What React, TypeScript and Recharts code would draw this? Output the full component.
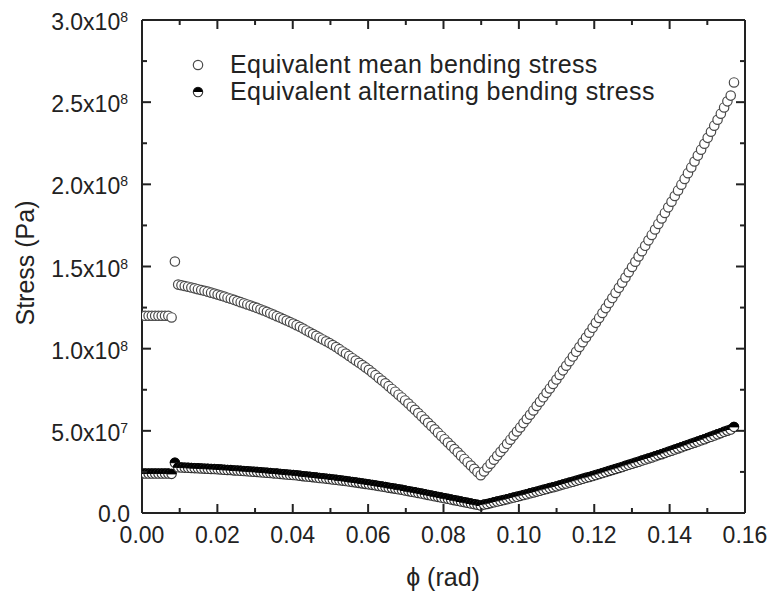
import React from "react";
import { ScatterChart, Scatter, XAxis, YAxis, Label } from "recharts";

// phi (rad), sampled every 0.05 deg
const phi = [
  0, 0.00087, 0.00175, 0.00262, 0.00349, 0.00436, 0.00524, 0.00611, 0.00698, 0.00785,
  0.00873, 0.0096, 0.01047, 0.01134, 0.01222, 0.01309, 0.01396, 0.01484, 0.01571, 0.01658,
  0.01745, 0.01833, 0.0192, 0.02007, 0.02094, 0.02182, 0.02269, 0.02356, 0.02443, 0.02531,
  0.02618, 0.02705, 0.02793, 0.0288, 0.02967, 0.03054, 0.03142, 0.03229, 0.03316, 0.03403,
  0.03491, 0.03578, 0.03665, 0.03752, 0.0384, 0.03927, 0.04014, 0.04102, 0.04189, 0.04276,
  0.04363, 0.04451, 0.04538, 0.04625, 0.04712, 0.048, 0.04887, 0.04974, 0.05061, 0.05149,
  0.05236, 0.05323, 0.05411, 0.05498, 0.05585, 0.05672, 0.0576, 0.05847, 0.05934, 0.06021,
  0.06109, 0.06196, 0.06283, 0.0637, 0.06458, 0.06545, 0.06632, 0.0672, 0.06807, 0.06894,
  0.06981, 0.07069, 0.07156, 0.07243, 0.0733, 0.07418, 0.07505, 0.07592, 0.07679, 0.07767,
  0.07854, 0.07941, 0.08029, 0.08116, 0.08203, 0.0829, 0.08378, 0.08465, 0.08552, 0.08639,
  0.08727, 0.08814, 0.08901, 0.08988, 0.09076, 0.09163, 0.0925, 0.09338, 0.09425, 0.09512,
  0.09599, 0.09687, 0.09774, 0.09861, 0.09948, 0.10036, 0.10123, 0.1021, 0.10297, 0.10385,
  0.10472, 0.10559, 0.10647, 0.10734, 0.10821, 0.10908, 0.10996, 0.11083, 0.1117, 0.11257,
  0.11345, 0.11432, 0.11519, 0.11606, 0.11694, 0.11781, 0.11868, 0.11956, 0.12043, 0.1213,
  0.12217, 0.12305, 0.12392, 0.12479, 0.12566, 0.12654, 0.12741, 0.12828, 0.12915, 0.13003,
  0.1309, 0.13177, 0.13265, 0.13352, 0.13439, 0.13526, 0.13614, 0.13701, 0.13788, 0.13875,
  0.13963, 0.1405, 0.14137, 0.14224, 0.14312, 0.14399, 0.14486, 0.14574, 0.14661, 0.14748,
  0.14835, 0.14923, 0.1501, 0.15097, 0.15184, 0.15272, 0.15359, 0.15446, 0.15533, 0.15621,
  0.15708,
];

// equivalent mean bending stress (MPa)
const meanStress = [
  120, 120, 120, 120, 120, 120, 120, 120, 120, 119,
  153, 139.0, 138.6, 138.1, 137.7, 137.2, 136.7, 136.2, 135.7, 135.2,
  134.7, 134.1, 133.5, 132.9, 132.3, 131.7, 131.0, 130.4, 129.7, 129.0,
  128.3, 127.6, 126.9, 126.2, 125.5, 124.8, 124.0, 123.2, 122.4, 121.5,
  120.7, 119.8, 118.9, 118.0, 117.1, 116.2, 115.3, 114.3, 113.3, 112.2,
  111.1, 110.0, 108.9, 107.8, 106.7, 105.6, 104.5, 103.4, 102.2, 101.0,
  99.7, 98.3, 97.0, 95.6, 94.2, 92.8, 91.4, 90.0, 88.6, 87.1,
  85.5, 83.9, 82.2, 80.6, 78.9, 77.2, 75.5, 73.8, 72.0, 70.3,
  68.5, 66.6, 64.7, 62.8, 60.8, 58.9, 56.9, 54.9, 52.9, 50.9,
  48.9, 46.9, 44.9, 42.9, 40.9, 38.9, 36.9, 34.9, 32.9, 30.9,
  28.9, 26.9, 24.9, 23.0, 25.3, 27.7, 30.0, 32.4, 34.8, 37.2,
  39.6, 42.1, 44.6, 47.1, 49.6, 52.1, 54.7, 57.2, 59.8, 62.4,
  65.1, 67.7, 70.4, 73.1, 75.8, 78.5, 81.2, 84.0, 86.8, 89.6,
  92.4, 95.2, 98.1, 101.0, 103.9, 106.8, 109.7, 112.7, 115.7, 118.7,
  121.7, 124.7, 127.8, 130.8, 133.9, 137.0, 140.1, 143.3, 146.5, 149.7,
  152.9, 156.1, 159.3, 162.6, 165.9, 169.2, 172.5, 175.9, 179.2, 182.6,
  186.0, 189.4, 192.9, 196.3, 199.8, 203.3, 206.8, 210.3, 213.9, 217.5,
  221.1, 224.7, 228.3, 232.0, 235.7, 239.3, 243.0, 246.8, 250.5, 254.0,
  262,
];

// equivalent alternating bending stress (MPa)
const altStress = [
  24.0, 24.0, 24.0, 24.0, 24.0, 24.0, 24.0, 24.0, 24.0, 23.8,
  30.6, 27.8, 27.7, 27.6, 27.5, 27.4, 27.3, 27.2, 27.1, 27.0,
  26.9, 26.8, 26.7, 26.6, 26.5, 26.3, 26.2, 26.1, 25.9, 25.8,
  25.7, 25.5, 25.4, 25.2, 25.1, 25.0, 24.8, 24.6, 24.5, 24.3,
  24.1, 24.0, 23.8, 23.6, 23.4, 23.2, 23.1, 22.9, 22.7, 22.4,
  22.2, 22.0, 21.8, 21.6, 21.3, 21.1, 20.9, 20.7, 20.4, 20.2,
  19.9, 19.7, 19.4, 19.1, 18.8, 18.6, 18.3, 18.0, 17.7, 17.4,
  17.1, 16.8, 16.4, 16.1, 15.8, 15.4, 15.1, 14.8, 14.4, 14.1,
  13.7, 13.3, 12.9, 12.6, 12.2, 11.8, 11.4, 11.0, 10.6, 10.2,
  9.8, 9.4, 9.0, 8.6, 8.2, 7.8, 7.4, 7.0, 6.6, 6.2,
  5.8, 5.4, 5.0, 4.6, 5.1, 5.5, 6.0, 6.5, 7.0, 7.4,
  7.9, 8.4, 8.9, 9.4, 9.9, 10.4, 10.9, 11.4, 12.0, 12.5,
  13.0, 13.5, 14.1, 14.6, 15.2, 15.7, 16.2, 16.8, 17.4, 17.9,
  18.5, 19.0, 19.6, 20.2, 20.8, 21.4, 21.9, 22.5, 23.1, 23.7,
  24.3, 24.9, 25.6, 26.2, 26.8, 27.4, 28.0, 28.7, 29.3, 29.9,
  30.6, 31.2, 31.9, 32.5, 33.2, 33.8, 34.5, 35.2, 35.8, 36.5,
  37.2, 37.9, 38.6, 39.3, 40.0, 40.7, 41.4, 42.1, 42.8, 43.5,
  44.2, 44.9, 45.7, 46.4, 47.1, 47.9, 48.6, 49.4, 50.1, 50.8,
  52.4,
];

const xTicks = [0, 0.01, 0.02, 0.03, 0.04, 0.05, 0.06, 0.07, 0.08, 0.09, 0.1, 0.11, 0.12, 0.13, 0.14, 0.15, 0.16];
const yTicks = [0, 25e6, 50e6, 75e6, 100e6, 125e6, 150e6, 175e6, 200e6, 225e6, 250e6, 275e6, 300e6];

const meanData = phi.map((x, i) => ({ x, y: meanStress[i] * 1e6 }));
const altData = phi.map((x, i) => ({ x, y: altStress[i] * 1e6 }));

const FONT = "'Liberation Sans', Arial, sans-serif";
const INK = "#222";
const R = 4.7;

// plot box (set by margins + axis sizes below)
const W = 770, H = 592;
const PL = 142, PR = 745, PT = 20, PB = 513;
const X_MAX = 0.16, Y_MAX = 300e6;

const isMajorX = (v: number) => Math.round(v * 100) % 2 === 0;
const isMajorY = (v: number) => Math.round(v / 25e6) % 2 === 0;

function OpenCircle(props: any) {
  const { cx, cy } = props;
  return <circle cx={cx} cy={cy} r={R} fill="#fff" stroke="#4a4a4a" strokeWidth={1.2} />;
}

function HalfCircle(props: any) {
  const { cx, cy } = props;
  return (
    <g>
      <circle cx={cx} cy={cy} r={R} fill="#fff" stroke="#333" strokeWidth={1.1} />
      <path d={`M${cx - R},${cy} A${R},${R} 0 0 1 ${cx + R},${cy} Z`} fill="#000" stroke="#000" strokeWidth={1} />
    </g>
  );
}

function BottomTick(props: any) {
  const { x, y, payload } = props;
  if (!isMajorX(payload.value)) return <g />;
  return (
    <text x={x} y={y + 30} textAnchor="middle" fontSize={23} fontFamily={FONT} fill={INK}>
      {payload.value.toFixed(2)}
    </text>
  );
}

function LeftTick(props: any) {
  const { x, y, payload } = props;
  const v = payload.value;
  if (!isMajorY(v)) return <g />;
  if (v === 0) {
    return <text x={x - 12} y={y + 9} textAnchor="end" fontSize={23} fontFamily={FONT} fill={INK}>0.0</text>;
  }
  const e = Math.floor(Math.log10(v));
  const m = (v / Math.pow(10, e)).toFixed(1);
  return (
    <text x={x - 14} y={y + 10} textAnchor="end" fontSize={23} fontFamily={FONT} fill={INK}>
      {m}x10
      <tspan dy={-8} fontSize={14}>{e}</tspan>
    </text>
  );
}

// inward tick marks on all four sides of the frame
function FrameTicks() {
  const marks: React.ReactNode[] = [];
  xTicks.slice(1, -1).forEach((v) => {
    const px = PL + (v / X_MAX) * (PR - PL);
    const len = isMajorX(v) ? 9 : 5;
    marks.push(<line key={`xb${v}`} x1={px} x2={px} y1={PB} y2={PB - len} />);
    marks.push(<line key={`xt${v}`} x1={px} x2={px} y1={PT} y2={PT + len} />);
  });
  yTicks.slice(1, -1).forEach((v) => {
    const py = PB - (v / Y_MAX) * (PB - PT);
    const len = isMajorY(v) ? 9 : 5;
    marks.push(<line key={`yl${v}`} x1={PL} x2={PL + len} y1={py} y2={py} />);
    marks.push(<line key={`yr${v}`} x1={PR} x2={PR - len} y1={py} y2={py} />);
  });
  return (
    <svg width={W} height={H} style={{ position: "absolute", left: 0, top: 0, pointerEvents: "none" }}>
      <g stroke={INK} strokeWidth={2}>{marks}</g>
    </svg>
  );
}

const axisLine = { stroke: INK, strokeWidth: 2 };

export default function App() {
  return (
    <div style={{ position: "absolute", left: 0, top: 0, width: W, height: H, overflow: "hidden", fontFamily: FONT }}>
      <ScatterChart width={W} height={H} margin={{ top: PT - 1, right: W - PR - 1, bottom: 0, left: 0 }}>
        <XAxis
          xAxisId="b" type="number" dataKey="x" domain={[0, X_MAX]} ticks={xTicks}
          height={H - PB} tickSize={0} tickMargin={0} tickLine={false} axisLine={axisLine}
          tick={BottomTick} interval={0} allowDataOverflow
        >
          <Label
            content={() => (
              <text x={443} y={586} textAnchor="middle" fontSize={25} fontFamily={FONT} fill={INK}>ϕ (rad)</text>
            )}
          />
        </XAxis>
        <XAxis
          xAxisId="t" orientation="top" type="number" domain={[0, X_MAX]} ticks={xTicks}
          height={1} tickLine={false} tick={false} axisLine={axisLine} allowDataOverflow
        />
        <YAxis
          yAxisId="l" type="number" dataKey="y" domain={[0, Y_MAX]} ticks={yTicks}
          width={PL} tickSize={0} tickMargin={0} tickLine={false} axisLine={axisLine}
          tick={LeftTick} interval={0} allowDataOverflow
        >
          <Label
            content={() => (
              <text x={34} y={263} transform="rotate(-90 34 263)" textAnchor="middle" fontSize={25} fontFamily={FONT} fill={INK}>
                Stress (Pa)
              </text>
            )}
          />
        </YAxis>
        <YAxis
          yAxisId="r" orientation="right" type="number" domain={[0, Y_MAX]} ticks={yTicks}
          width={1} tickLine={false} tick={false} axisLine={axisLine} allowDataOverflow
        />
        <Scatter
          name="Equivalent mean bending stress" data={meanData} xAxisId="b" yAxisId="l"
          shape={<OpenCircle />} isAnimationActive={false}
        />
        <Scatter
          name="Equivalent alternating bending stress" data={altData} xAxisId="b" yAxisId="l"
          shape={<HalfCircle />} isAnimationActive={false}
        />
      </ScatterChart>
      <FrameTicks />
      <div style={{ position: "absolute", left: 186, top: 51, color: INK, fontSize: 25, letterSpacing: 0.4, lineHeight: "27px", whiteSpace: "nowrap" }}>
        <div style={{ display: "flex", alignItems: "center" }}>
          <svg width={24} height={27} style={{ marginRight: 20 }}>
            <circle cx={12} cy={14} r={R} fill="#fff" stroke="#4a4a4a" strokeWidth={1.2} />
          </svg>
          <span>Equivalent mean bending stress</span>
        </div>
        <div style={{ display: "flex", alignItems: "center" }}>
          <svg width={24} height={27} style={{ marginRight: 20 }}>
            <circle cx={12} cy={14} r={R} fill="#fff" stroke="#333" strokeWidth={1.1} />
            <path d={`M${12 - R},14 A${R},${R} 0 0 1 ${12 + R},14 Z`} fill="#000" />
          </svg>
          <span>Equivalent alternating bending stress</span>
        </div>
      </div>
    </div>
  );
}
